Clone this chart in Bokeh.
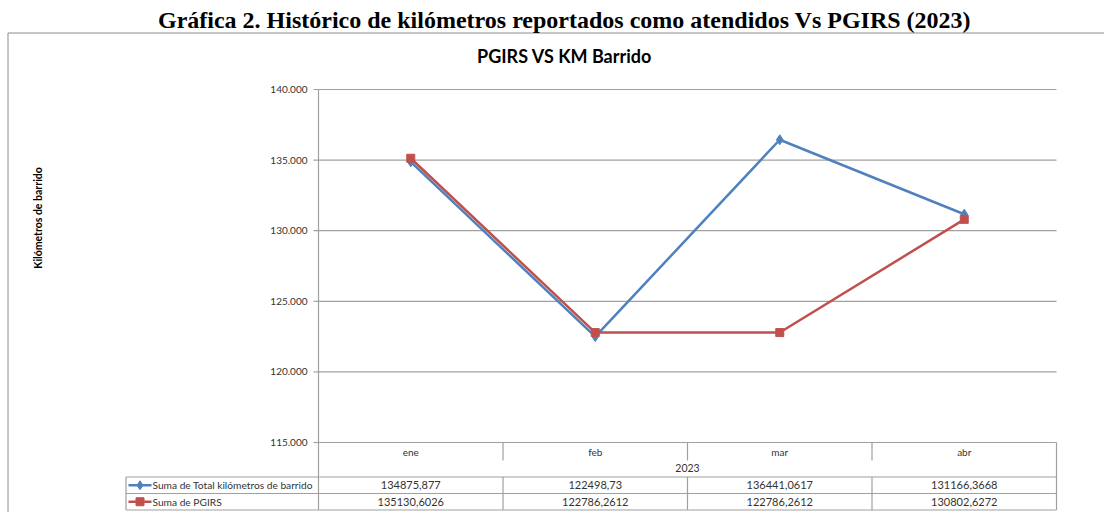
import math
from bokeh.plotting import figure
from bokeh.models import Range1d
from bokeh.core.properties import value
from bokeh.embed import file_html
from bokeh.resources import INLINE

# ---------------- data ----------------
months = ["ene", "feb", "mar", "abr"]
year = "2023"
total_km = [134875.877, 122498.73, 136441.0617, 131166.3668]
pgirs = [135130.6026, 122786.2612, 122786.2612, 130802.6272]
y_ticks = [115000, 120000, 125000, 130000, 135000, 140000]
y_tick_labels = ["115.000", "120.000", "125.000", "130.000", "135.000", "140.000"]
series_names = ["Suma de Total kilómetros de barrido", "Suma de PGIRS"]
main_title = "Gráfica 2. Histórico de kilómetros reportados como atendidos Vs PGIRS (2023)"
chart_title = "PGIRS VS KM Barrido"
y_label = "Kilómetros de barrido"

# ---------------- style / layout ----------------
BLUE = "#4F81BD"
RED = "#C0504D"
GRID = "#A0A0A0"
FRAME = "#8C8C8C"
TXT = "#333333"
FONT = "Lato"

W, H = 1104, 512
PLOT_L, PLOT_R, PLOT_T, PLOT_B = 318, 1056, 89, 442
NCAT = len(months)
CW = (PLOT_R - PLOT_L) / NCAT
KPP = (y_ticks[-1] - y_ticks[0]) / (PLOT_B - PLOT_T)
xc = [i + 0.5 for i in range(NCAT)]          # category centres


def px2x(px):
    return (px - PLOT_L) / CW


def py2y(py):
    return y_ticks[0] + (PLOT_B - py) * KPP


p = figure(width=W, height=H,
           x_range=Range1d(px2x(0), px2x(W)), y_range=Range1d(py2y(H), py2y(0)),
           output_backend="svg", toolbar_location=None,
           x_axis_type=None, y_axis_type=None, min_border=0)
p.xgrid.grid_line_color = None
p.ygrid.grid_line_color = None
p.outline_line_color = None
p.background_fill_color = "white"
p.border_fill_color = "white"


def txt(x, y, s, size, align="center", bold=False, font=FONT, color=TXT, angle=0):
    p.text(x=x, y=y, text=s, text_align=align, text_baseline="middle",
           text_font=value(font), text_font_style="bold" if bold else "normal",
           text_font_size=size, text_color=color, angle=angle)


# ---------- outer frame and titles ----------
p.segment(x0=[px2x(7.5), px2x(7.5)], y0=[py2y(32.5)] * 2,
          x1=[px2x(W), px2x(7.5)], y1=[py2y(32.5), py2y(H)],
          line_color=FRAME, line_width=1)
txt([px2x(564)], [py2y(19)], [main_title], "24px", bold=True,
    font="Liberation Serif", color="black")
txt([px2x(564)], [py2y(55)], [chart_title], "18px", bold=True, color="black")
txt([px2x(37)], [py2y(217.5)], [y_label], "10.5px", bold=True, color="black",
    angle=math.pi / 2)

# ---------- value axis: grid, axis line, ticks, labels ----------
p.segment(x0=[0] * len(y_ticks), y0=y_ticks, x1=[NCAT] * len(y_ticks), y1=y_ticks,
          line_color=GRID, line_width=1.2)
p.segment(x0=[0], y0=[y_ticks[0]], x1=[0], y1=[y_ticks[-1]],
          line_color=GRID, line_width=1.2)
p.segment(x0=[px2x(313)] * len(y_ticks), y0=y_ticks, x1=[0] * len(y_ticks), y1=y_ticks,
          line_color=GRID, line_width=1.2)
txt([px2x(307)] * len(y_ticks), y_ticks, y_tick_labels, "10px", align="right")

# ---------- category axis ----------
R0, R1, R2 = 476.5, 493.0, 509.5
p.segment(x0=list(range(1, NCAT)), y0=[y_ticks[0]] * (NCAT - 1),
          x1=list(range(1, NCAT)), y1=[py2y(460)] * (NCAT - 1),
          line_color=GRID, line_width=1.2)
p.segment(x0=[0, NCAT], y0=[y_ticks[0]] * 2, x1=[0, NCAT], y1=[py2y(R2)] * 2,
          line_color=GRID, line_width=1.2)
txt(xc, [py2y(451.5)] * NCAT, months, "10px")
txt([NCAT / 2], [py2y(467.5)], [year], "10.5px")

# ---------- data table ----------
LEG_L = px2x(125.5)
p.segment(x0=[LEG_L] * 3, y0=[py2y(r) for r in (R0, R1, R2)],
          x1=[NCAT] * 3, y1=[py2y(r) for r in (R0, R1, R2)],
          line_color=GRID, line_width=1.2)
inner = list(range(1, NCAT))
p.segment(x0=[LEG_L] + inner, y0=[py2y(R0)] * NCAT,
          x1=[LEG_L] + inner, y1=[py2y(R2)] * NCAT,
          line_color=GRID, line_width=1.2)


def fmt(v):
    return f"{v}".replace(".", ",")


ym1, ym2 = py2y((R0 + R1) / 2), py2y((R1 + R2) / 2)
txt(xc, [ym1] * NCAT, [fmt(v) for v in total_km], "11px")
txt(xc, [ym2] * NCAT, [fmt(v) for v in pgirs], "11px")
p.segment(x0=[px2x(128)] * 2, y0=[ym1, ym2], x1=[px2x(151)] * 2, y1=[ym1, ym2],
          line_color=[BLUE, RED], line_width=2.5)
p.scatter(x=[px2x(139.5)], y=[ym1], marker="diamond", size=9, color=BLUE)
p.scatter(x=[px2x(139.5)], y=[ym2], marker="square", size=8, color=RED)
txt([px2x(152)] * 2, [ym1, ym2], series_names, "10.2px", align="left")

# ---------- series ----------
p.line(xc, total_km, line_color=BLUE, line_width=2.5)
p.scatter(xc, total_km, marker="diamond", size=10, color=BLUE)
p.line(xc, pgirs, line_color=RED, line_width=2.5)
p.scatter(xc, pgirs, marker="square", size=8, color=RED)

open("out.html", "w").write(file_html(p, INLINE))
